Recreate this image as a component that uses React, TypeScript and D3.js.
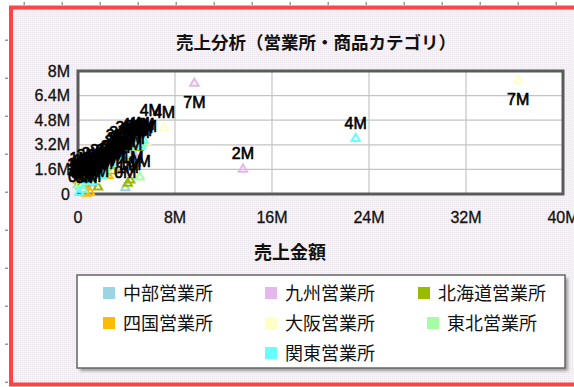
import React from "react";
import * as d3 from "d3";

// ---- data (values in millions) ----
const SERIES_NAMES = ["中部営業所", "九州営業所", "北海道営業所", "四国営業所", "大阪営業所", "東北営業所", "関東営業所"];
const SERIES_COLORS = ["#9ad6e2", "#e4b8ec", "#99bb00", "#ffbb00", "#ffffc8", "#a4ffa4", "#66ffff"];

const chubu: [number, number][] = [[0.2, 0.5], [0.8, 0.9], [1.5, 1.1], [2.2, 1.4], [3.0, 1.7], [3.9, 0.4], [4.4, 2.2], [0.5, 1.2], [1.9, 1.8], [0.3, 0.7], [1.1, 1.0], [2.7, 1.9], [4.2, 2.9], [0.0, 0.6]];
const kyushu: [number, number][] = [[9.6, 7.2], [13.6, 1.6], [0.4, 0.8], [1.2, 1.3], [2.6, 1.9], [3.4, 2.0], [4.6, 2.6], [1.0, 0.7], [0.6, 0.5], [1.6, 1.2], [3.1, 2.4], [4.8, 3.4], [2.0, 1.5]];
const hokkaido: [number, number][] = [[1.65, 0.45], [4.1, 0.7], [4.3, 0.9], [0.6, 0.6], [1.4, 1.0], [2.9, 1.5], [3.6, 2.3], [5.0, 3.0], [0.1, 0.9], [0.2, 0.8], [1.2, 0.8], [2.4, 1.8], [4.6, 3.1], [3.3, 2.6]];
const shikoku: [number, number][] = [[0.7, 0.05], [1.0, 0.1], [2.5, 1.2], [3.0, 1.6], [0.3, 1.0], [1.7, 1.5], [3.8, 2.4], [0.5, 0.6], [1.3, 1.1], [2.1, 1.3], [3.5, 2.2], [4.9, 3.2], [0.0, 0.9]];
const osaka: [number, number][] = [[36.3, 7.4], [7.1, 4.3], [4.5, 1.35], [0.9, 1.2], [2.0, 1.0], [3.2, 2.8], [4.4, 3.2], [5.6, 3.4], [0.3, 0.4], [1.4, 0.9], [2.6, 1.6], [3.9, 2.7], [5.0, 3.6]];
const tohoku: [number, number][] = [[6.0, 4.4], [5.1, 1.1], [0.8, 0.8], [0.8, 1.5], [2.3, 1.6], [3.5, 3.0], [4.0, 3.3], [5.3, 3.3], [0.1, 0.6], [1.8, 1.3], [2.9, 2.0], [4.3, 3.0], [1.2, 1.6]];
const kanto: [number, number][] = [[0.1, 0.1], [0.4, 0.3], [1.15, 0.8], [2.0, 1.2], [4.5, 3.5], [5.4, 3.5], [22.9, 3.6], [2.8, 2.1], [0.2, 1.3], [0.6, 0.9], [1.5, 1.4], [3.3, 2.2], [3.8, 2.6], [5.2, 3.1]];

const SERIES_DATA = [chubu, kyushu, hokkaido, shikoku, osaka, tohoku, kanto];

const X_TICKS = [0, 8, 16, 24, 32, 40];
const Y_TICKS = [0, 1.6, 3.2, 4.8, 6.4, 8];

const TITLE = "売上分析（営業所・商品カテゴリ）";
const X_TITLE = "売上金額";

const W = 574;
const H = 387;
const FONT = "'Liberation Sans', 'Noto Sans CJK JP', sans-serif";

export default function App() {
  const x = d3.scaleLinear().domain([0, 40]).range([78, 563]);
  const y = d3.scaleLinear().domain([0, 8]).range([194, 71]);
  const tri = d3.symbol(d3.symbolTriangle, 30)() as string;
  const fmt = (v: number) => (v === 0 ? "0" : `${v}M`);

  const topTicks = d3.range(24, W, 38);
  const leftTicks = d3.range(40, H, 38);

  // legend layout
  const legendCols = [158, 320, 482];
  const legendRows = [293, 323, 353];
  const legendItems = SERIES_NAMES.map((name, i) => {
    const row = Math.floor(i / 3);
    const col = i % 3;
    const cx = row === 2 ? 320 : legendCols[col];
    const w = 12 + 8 + name.length * 18;
    return { name, color: SERIES_COLORS[i], x0: cx - w / 2, cy: legendRows[row] };
  });

  const points = SERIES_DATA.flatMap((arr, si) =>
    arr.map(([vx, vy]) => ({ px: x(vx), py: y(vy), vy, color: SERIES_COLORS[si] }))
  );

  return (
    <div style={{ position: "absolute", left: 0, top: 0 }}>
      <svg width={W} height={H} style={{ display: "block", fontFamily: FONT }}>
        <defs>
          <pattern id="dots" width="2" height="2" patternUnits="userSpaceOnUse">
            <rect width="2" height="2" fill="#f6f3f6" />
            <rect width="1" height="1" fill="#ebe6eb" />
          </pattern>
          <filter id="blur" x="-10%" y="-10%" width="120%" height="120%">
            <feGaussianBlur stdDeviation="1.5" />
          </filter>
        </defs>
        <rect width={W} height={H} fill="#ffffff" />
        {topTicks.map((t) => (
          <rect key={"tt" + t} x={t - 0.5} y={2} width={1.5} height={3} fill="#999" />
        ))}
        {leftTicks.map((t) => (
          <rect key={"lt" + t} x={5} y={t - 0.5} width={3} height={1.5} fill="#999" />
        ))}
        <rect x={11} y={7.5} width={620} height={377} fill="url(#dots)" stroke="#ff4444" strokeWidth={4} />

        {/* title */}
        <text x={316} y={49} textAnchor="middle" fontSize={17.5} fontWeight="bold" fill="#111">
          {TITLE}
        </text>

        {/* plot area */}
        <rect x={78} y={71} width={485} height={123} fill="#ffffff" />
        {X_TICKS.slice(1, -1).map((t) => (
          <line key={"gx" + t} x1={x(t)} x2={x(t)} y1={71} y2={194} stroke="#c4c4c4" strokeWidth={1.2} />
        ))}
        {Y_TICKS.slice(1, -1).map((t) => (
          <line key={"gy" + t} x1={78} x2={563} y1={y(t)} y2={y(t)} stroke="#c4c4c4" strokeWidth={1.2} />
        ))}
        <rect x={78} y={71} width={485} height={123} fill="none" stroke="#5a5a5a" strokeWidth={3} />

        {/* tick labels */}
        {Y_TICKS.map((t) => (
          <text key={"yl" + t} x={70} y={y(t) + 5.5} textAnchor="end" fontSize={16} fill="#111" stroke="#111" strokeWidth={0.3}>
            {fmt(t)}
          </text>
        ))}
        {X_TICKS.map((t) => (
          <text key={"xl" + t} x={x(t)} y={223} textAnchor="middle" fontSize={16} fill="#111" stroke="#111" strokeWidth={0.3}>
            {fmt(t)}
          </text>
        ))}
        <text x={290} y={259} textAnchor="middle" fontSize={18} fontWeight="bold" fill="#111">
          {X_TITLE}
        </text>

        {/* markers */}
        {points.map((p, i) => (
          <path
            key={"m" + i}
            d={tri}
            transform={`translate(${p.px},${p.py})`}
            fill="none"
            stroke={p.color}
            strokeWidth={2}
          />
        ))}
        {/* data labels */}
        {points.map((p, i) => {
          const below = p.py - 22 < 71;
          return (
            <text
              key={"dl" + i}
              x={p.px}
              y={below ? p.py + 25 : p.py - 10}
              textAnchor="middle"
              fontSize={16}
              fill="#000"
              stroke="#000"
              strokeWidth={0.6}
            >
              {`${Math.round(p.vy)}M`}
            </text>
          );
        })}

        {/* legend */}
        <rect x={80} y={278} width={488} height={93} fill="#888" filter="url(#blur)" opacity={0.8} />
        <rect x={77} y={275} width={488} height={93} fill="#ffffff" stroke="#666" strokeWidth={1.5} />
        {legendItems.map((it) => (
          <g key={it.name}>
            <rect x={it.x0} y={it.cy - 6} width={12} height={12} fill={it.color} />
            <text x={it.x0 + 20} y={it.cy + 6.5} fontSize={18} fill="#111">
              {it.name}
            </text>
          </g>
        ))}
      </svg>
    </div>
  );
}
